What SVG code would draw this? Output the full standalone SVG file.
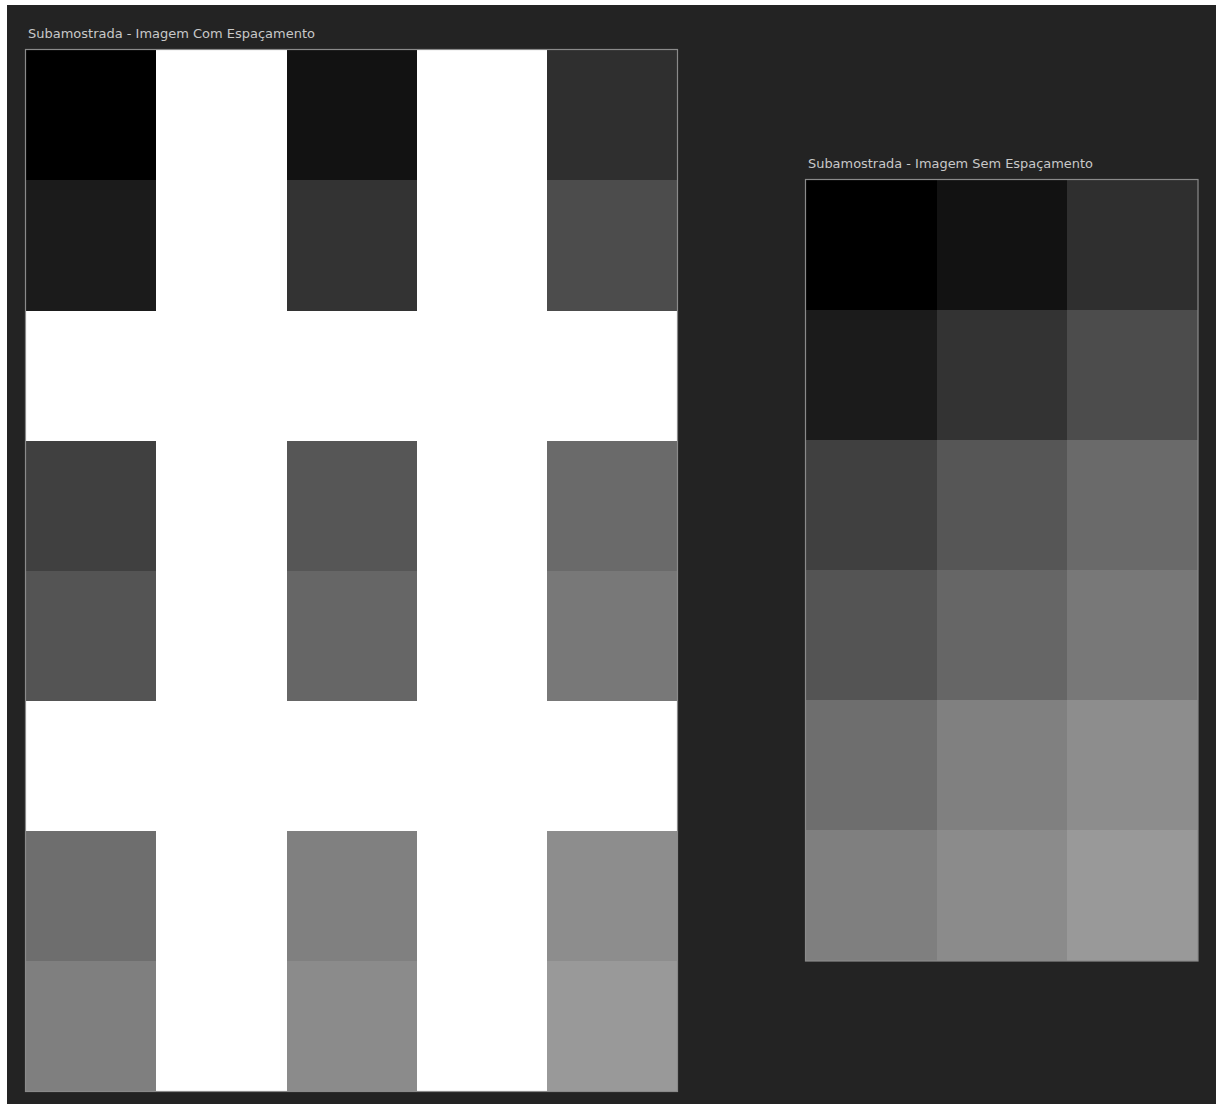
<svg xmlns="http://www.w3.org/2000/svg" width="1216" height="1104" viewBox="0 0 1216 1104">
<style>
.t{font-family:"DejaVu Sans","Liberation Sans",sans-serif;font-size:12px;fill:#c8c8c8}
.fr{fill:none;stroke:#8a8a8a;stroke-width:1.2}
.cells rect{shape-rendering:crispEdges}
</style>
<rect x="0" y="0" width="1216" height="1104" fill="#ffffff"/>
<rect x="7" y="5" width="1209" height="1099" fill="#232323"/>
<g id="panel-com-espacamento">
<text class="t" x="28" y="38" textLength="287" lengthAdjust="spacingAndGlyphs">Subamostrada - Imagem Com Espaçamento</text>
<rect x="26" y="50" width="651.5" height="1041.5" fill="#ffffff"/>
<g class="cells" transform="translate(26,50)">
<rect x="0" y="0" width="130.3" height="130.3" fill="#000000"/>
<rect x="260.6" y="0" width="130.3" height="130.3" fill="#121212"/>
<rect x="521.2" y="0" width="130.3" height="130.3" fill="#2f2f2f"/>
<rect x="0" y="130.2" width="130.3" height="130.3" fill="#1b1b1b"/>
<rect x="260.6" y="130.2" width="130.3" height="130.3" fill="#333333"/>
<rect x="521.2" y="130.2" width="130.3" height="130.3" fill="#4c4c4c"/>
<rect x="0" y="390.6" width="130.3" height="130.3" fill="#404040"/>
<rect x="260.6" y="390.6" width="130.3" height="130.3" fill="#565656"/>
<rect x="521.2" y="390.6" width="130.3" height="130.3" fill="#6a6a6a"/>
<rect x="0" y="520.8" width="130.3" height="130.3" fill="#545454"/>
<rect x="260.6" y="520.8" width="130.3" height="130.3" fill="#666666"/>
<rect x="521.2" y="520.8" width="130.3" height="130.3" fill="#787878"/>
<rect x="0" y="781.2" width="130.3" height="130.3" fill="#6e6e6e"/>
<rect x="260.6" y="781.2" width="130.3" height="130.3" fill="#808080"/>
<rect x="521.2" y="781.2" width="130.3" height="130.3" fill="#8d8d8d"/>
<rect x="0" y="911.4" width="130.3" height="130.1" fill="#7f7f7f"/>
<rect x="260.6" y="911.4" width="130.3" height="130.1" fill="#8b8b8b"/>
<rect x="521.2" y="911.4" width="130.3" height="130.1" fill="#999999"/>
</g>
<rect class="fr" x="25.5" y="49.5" width="652" height="1042"/>
</g>
<g id="panel-sem-espacamento">
<text class="t" x="808" y="168" textLength="285" lengthAdjust="spacingAndGlyphs">Subamostrada - Imagem Sem Espaçamento</text>
<g class="cells" transform="translate(806,180)">
<rect x="0" y="0" width="131" height="131" fill="#000000"/>
<rect x="131" y="0" width="131" height="131" fill="#121212"/>
<rect x="261" y="0" width="131" height="131" fill="#2f2f2f"/>
<rect x="0" y="130" width="131" height="131" fill="#1b1b1b"/>
<rect x="131" y="130" width="131" height="131" fill="#333333"/>
<rect x="261" y="130" width="131" height="131" fill="#4c4c4c"/>
<rect x="0" y="260" width="131" height="131" fill="#404040"/>
<rect x="131" y="260" width="131" height="131" fill="#565656"/>
<rect x="261" y="260" width="131" height="131" fill="#6a6a6a"/>
<rect x="0" y="390" width="131" height="131" fill="#545454"/>
<rect x="131" y="390" width="131" height="131" fill="#666666"/>
<rect x="261" y="390" width="131" height="131" fill="#787878"/>
<rect x="0" y="520" width="131" height="131" fill="#6e6e6e"/>
<rect x="131" y="520" width="131" height="131" fill="#808080"/>
<rect x="261" y="520" width="131" height="131" fill="#8d8d8d"/>
<rect x="0" y="650" width="131" height="131" fill="#7f7f7f"/>
<rect x="131" y="650" width="131" height="131" fill="#8b8b8b"/>
<rect x="261" y="650" width="131" height="131" fill="#999999"/>
</g>
<rect class="fr" x="805.5" y="179.5" width="392.5" height="781.5"/>
</g>
<g id="connectors"/>
</svg>
